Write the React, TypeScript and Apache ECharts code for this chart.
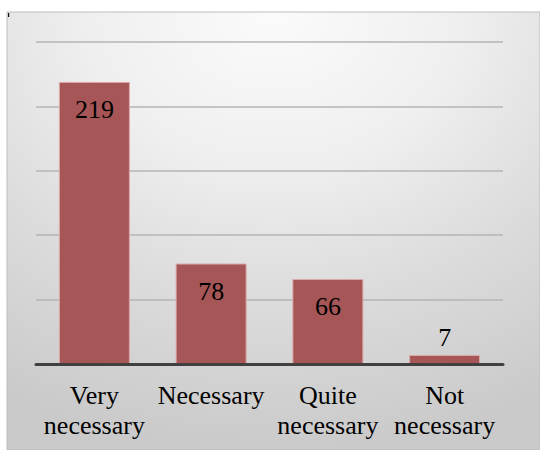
import React, { useEffect, useRef } from "react";
import * as echarts from "echarts";

// Survey answers and their counts
const categories = ["Very necessary", "Necessary", "Quite necessary", "Not necessary"];
const counts = [219, 78, 66, 7];

// Value axis range (gridlines every 50)
const axisMin = 0;
const axisMax = 250;
const axisStep = 50;

const SERIF = "Liberation Serif";

export default function App() {
  const ref = useRef<HTMLDivElement>(null);

  useEffect(() => {
    if (!ref.current) return;
    const chart = echarts.init(ref.current, null, { renderer: "svg" });

    // Small bars carry their value above the bar, the rest just inside the top
    const barData = counts.map((v) => ({
      value: v,
      label:
        v < 20
          ? { position: "top" as const, distance: 4 }
          : { position: "insideTop" as const, distance: 15 },
    }));

    chart.setOption({
      animation: false,
      textStyle: { fontFamily: SERIF },
      graphic: [
        {
          // chart panel with its soft grey shading
          type: "rect",
          z: -100,
          silent: true,
          shape: { x: 7, y: 12, width: 533, height: 438 },
          style: {
            fill: {
              type: "radial",
              x: 0.5,
              y: 0,
              r: 1,
              colorStops: [
                { offset: 0, color: "#fbfbfb" },
                { offset: 0.35, color: "#efefef" },
                { offset: 0.65, color: "#dcdcdc" },
                { offset: 1, color: "#cacaca" },
              ],
            },
            stroke: "#bdbdbd",
            lineWidth: 1,
          },
        },
        {
          type: "rect",
          z: 10,
          silent: true,
          shape: { x: 8, y: 13, width: 1.2, height: 4 },
          style: { fill: "#111" },
        },
        {
          // tail of the caption line running above the panel
          type: "text",
          z: 10,
          silent: true,
          x: 155,
          y: -19,
          style: {
            text: "importance (Figure 1)",
            font: `26px ${SERIF}`,
            fill: "#000",
            align: "left",
            verticalAlign: "middle",
          },
        },
      ],
      grid: { left: 36, right: 37, top: 42, bottom: 86, containLabel: false },
      xAxis: {
        type: "category",
        data: categories,
        axisLine: { show: true, lineStyle: { color: "#404040", width: 3 } },
        axisTick: { show: false },
        axisLabel: {
          interval: 0,
          margin: 16,
          color: "#000",
          fontFamily: SERIF,
          fontSize: 26,
          lineHeight: 30,
          formatter: (s: string) => s.split(" ").join("\n"),
        },
        z: 5,
      },
      yAxis: {
        type: "value",
        min: axisMin,
        max: axisMax,
        interval: axisStep,
        axisLine: { show: false },
        axisTick: { show: false },
        axisLabel: { show: false },
        splitLine: { lineStyle: { color: "#b4b4b4", width: 1.5 } },
      },
      series: [
        {
          type: "bar",
          data: barData,
          barWidth: 71,
          itemStyle: { color: "#a65656", borderColor: "#dca8a8", borderWidth: 1 },
          label: {
            show: true,
            color: "#000",
            fontFamily: SERIF,
            fontSize: 26,
            lineHeight: 26,
          },
        },
      ],
    });

    return () => chart.dispose();
  }, []);

  return (
    <div style={{ position: "absolute", left: 0, top: 0, width: 540, height: 450, background: "#fff" }}>
      <div ref={ref} style={{ width: 540, height: 450 }} />
    </div>
  );
}
